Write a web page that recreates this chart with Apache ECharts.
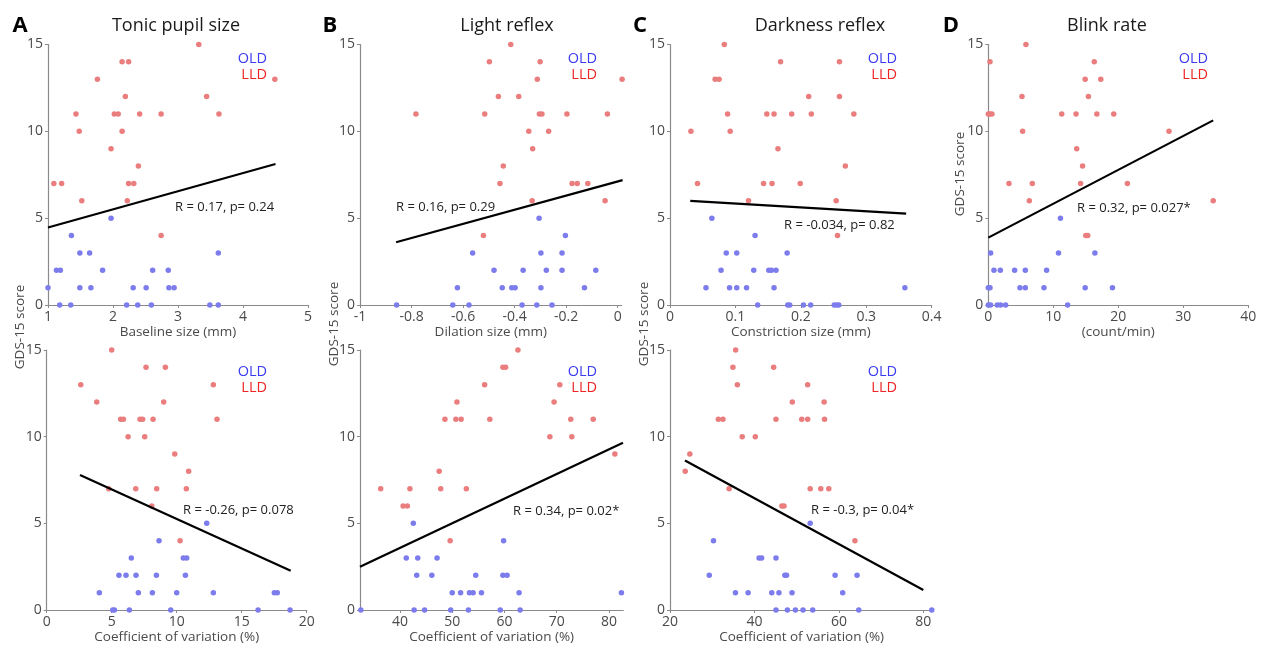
<!DOCTYPE html>
<html>
<head>
<meta charset="utf-8">
<script src="https://cdn.jsdelivr.net/npm/echarts@6/dist/echarts.min.js"></script>
<style>html,body{margin:0;padding:0;background:#fff}#c{width:1262px;height:648px}</style>
</head>
<body>
<div id="c"></div>
<script>
// ---------- DATA ----------
const yTicks = [0, 5, 10, 15];
const xTicksA1 = [1, 2, 3, 4, 5];
const xTicksB1 = [-1, -0.8, -0.6, -0.4, -0.2, 0];
const xTicksC1 = [0, 0.1, 0.2, 0.3, 0.4];
const xTicksD1 = [0, 10, 20, 30, 40];
const xTicksA2 = [0, 5, 10, 15, 20];
const xTicksB2 = [40, 50, 60, 70, 80];
const xTicksC2 = [20, 40, 60, 80];

const titles = ['Tonic pupil size', 'Light reflex', 'Darkness reflex', 'Blink rate'];
const letters = ['A', 'B', 'C', 'D'];
const xNamesTop = ['Baseline size (mm)', 'Dilation size (mm)', 'Constriction size (mm)', '(count/min)'];
const xNameBottom = 'Coefficient of variation (%)';
const yName = 'GDS-15 score';
const groupNames = ['OLD', 'LLD'];
const statsText = ['R = 0.17, p= 0.24', 'R = 0.16, p= 0.29', 'R = -0.034, p= 0.82', 'R = 0.32, p= 0.027*',
                   'R = -0.26, p= 0.078', 'R = 0.34, p= 0.02*', 'R = -0.3, p= 0.04*'];

const aTopOld = [[1.97,5],[1.36,4],[1.49,3],[1.64,3],[3.62,3],[1.13,2],[1.19,2],[1.84,2],[2.61,2],[2.85,2],[1.0,1],[1.49,1],[1.66,1],[2.31,1],[2.51,1],[2.86,1],[2.94,1],[1.18,0],[1.35,0],[2.21,0],[2.38,0],[2.59,0],[3.49,0],[3.62,0]];
const aTopLld = [[3.32,15],[2.14,14],[2.24,14],[1.76,13],[4.49,13],[2.19,12],[3.44,12],[1.43,11],[2.02,11],[2.08,11],[2.41,11],[2.74,11],[3.63,11],[1.48,10],[2.14,10],[1.97,9],[2.39,8],[1.09,7],[1.21,7],[2.24,7],[2.32,7],[1.52,6],[2.22,6],[2.74,4]];
const aTopFit = [[1,4.46],[4.5,8.12]];

const bTopOld = [[-0.305,5],[-0.203,4],[-0.563,3],[-0.298,3],[-0.216,3],[-0.480,2],[-0.367,2],[-0.277,2],[-0.216,2],[-0.085,2],[-0.622,1],[-0.448,1],[-0.411,1],[-0.398,1],[-0.298,1],[-0.129,1],[-0.858,0],[-0.640,0],[-0.577,0],[-0.371,0],[-0.314,0],[-0.255,0]];
const bTopLld = [[-0.415,15],[-0.498,14],[-0.301,14],[-0.312,13],[0.017,13],[-0.463,12],[-0.384,12],[-0.783,11],[-0.516,11],[-0.304,11],[-0.294,11],[-0.197,11],[-0.040,11],[-0.345,10],[-0.268,10],[-0.330,9],[-0.444,8],[-0.457,7],[-0.177,7],[-0.157,7],[-0.116,7],[-0.332,6],[-0.049,6],[-0.521,4]];
const bTopFit = [[-0.86,3.61],[0.019,7.19]];

const cTopOld = [[0.064,5],[0.130,4],[0.086,3],[0.102,3],[0.179,3],[0.078,2],[0.128,2],[0.151,2],[0.155,2],[0.162,2],[0.055,1],[0.091,1],[0.102,1],[0.117,1],[0.159,1],[0.359,1],[0.134,0],[0.180,0],[0.183,0],[0.204,0],[0.215,0],[0.251,0],[0.255,0],[0.258,0]];
const cTopLld = [[0.083,15],[0.169,14],[0.259,14],[0.069,13],[0.075,13],[0.212,12],[0.259,12],[0.088,11],[0.148,11],[0.159,11],[0.186,11],[0.216,11],[0.281,11],[0.032,10],[0.092,10],[0.165,9],[0.268,8],[0.042,7],[0.143,7],[0.156,7],[0.199,7],[0.120,6],[0.254,6],[0.256,4]];
const cTopFit = [[0.031,6.0],[0.361,5.26]];

const dTopOld = [[11.1,5],[0.36,3],[10.8,3],[16.4,3],[0.87,2],[1.85,2],[4.05,2],[5.69,2],[8.97,2],[0,1],[0.26,1],[4.87,1],[5.69,1],[8.56,1],[14.9,1],[19.1,1],[0,0],[0.36,0],[1.38,0],[1.9,0],[2.67,0],[12.2,0]];
const dTopLld = [[5.79,15],[0.26,14],[16.3,14],[14.9,13],[17.3,13],[5.18,12],[15.4,12],[0,11],[0.26,11],[0.56,11],[11.3,11],[13.5,11],[16.7,11],[19.3,11],[5.28,10],[27.8,10],[13.6,9],[14.5,8],[3.18,7],[6.77,7],[14.2,7],[21.4,7],[6.31,6],[34.6,6],[15.0,4],[15.3,4]];
const dTopFit = [[0,3.88],[34.6,10.63]];

const aBotOld = [[12.31,5],[8.64,4],[6.51,3],[10.51,3],[10.77,3],[5.56,2],[6.10,2],[6.87,2],[8.44,2],[10.67,2],[4.05,1],[7.05,1],[8.13,1],[10.0,1],[12.82,1],[17.51,1],[17.74,1],[5.08,0],[5.21,0],[6.36,0],[9.54,0],[16.26,0],[18.72,0]];
const aBotLld = [[5.0,15],[7.64,14],[9.13,14],[2.62,13],[12.82,13],[3.85,12],[9.0,12],[5.69,11],[5.9,11],[7.18,11],[7.38,11],[8.18,11],[13.1,11],[6.26,10],[7.54,10],[9.85,9],[10.92,8],[4.77,7],[6.85,7],[8.46,7],[10.74,7],[8.08,6],[10.26,4]];
const aBotFit = [[2.56,7.79],[18.77,2.27]];

const bBotOld = [[42.55,5],[59.84,4],[41.2,3],[43.4,3],[47.1,3],[43.2,2],[46.1,2],[54.5,2],[59.7,2],[60.5,2],[50.0,1],[51.6,1],[53.3,1],[54.0,1],[55.6,1],[62.8,1],[82.4,1],[32.5,0],[42.7,0],[44.7,0],[49.7,0],[53.1,0],[59.2,0],[63.0,0]];
const bBotLld = [[62.58,15],[59.71,14],[60.22,14],[56.2,13],[70.6,13],[50.9,12],[69.5,12],[48.6,11],[50.7,11],[51.7,11],[57.2,11],[72.7,11],[77.0,11],[68.7,10],[72.9,10],[81.15,9],[47.5,8],[36.3,7],[41.9,7],[47.8,7],[52.7,7],[40.6,6],[41.4,6],[49.6,4]];
const bBotFit = [[32.34,2.5],[82.7,9.65]];

const cBotOld = [[53.2,5],[30.3,4],[41.1,3],[41.7,3],[45.1,3],[29.3,2],[47.2,2],[47.6,2],[59.1,2],[64.3,2],[35.5,1],[38.5,1],[44.1,1],[45.8,1],[48.9,1],[60.9,1],[45.1,0],[47.8,0],[49.7,0],[51.5,0],[53.8,0],[64.7,0],[82.0,0]];
const cBotLld = [[35.55,15],[34.9,14],[44.55,14],[35.95,13],[52.6,13],[48.97,12],[56.5,12],[31.45,11],[32.55,11],[45.1,11],[51.2,11],[52.6,11],[56.6,11],[37.1,10],[40.2,10],[24.7,9],[23.6,8],[34.0,7],[53.2,7],[55.7,7],[57.6,7],[46.5,6],[47.0,6],[63.8,4]];
const cBotFit = [[23.55,8.62],[80.0,1.15]];

// ---------- LAYOUT / STYLE ----------
const FONT = "'Open Sans', 'Noto Sans', sans-serif";
const C_OLD_PT = '#7c7cec', C_LLD_PT = '#ea7d7d';
const C_OLD_TX = '#3a3af0', C_LLD_TX = '#ee2424';
const AXIS_C = '#8a8a8a', LABEL_C = '#4a4a4a';

const panels = [
  {grid:{left:48, top:44.5, width:260, height:260.5}, min:1, max:5, ticks:xTicksA1, name:xNamesTop[0], old:aTopOld, lld:aTopLld, fit:aTopFit, stat:statsText[0], sx:175, sy:207, lx:267, ly:59},
  {grid:{left:360, top:44.5, width:261.7, height:260.5}, min:-1, max:0.0155, ticks:xTicksB1, name:xNamesTop[1], old:bTopOld, lld:bTopLld, fit:bTopFit, stat:statsText[1], sx:396, sy:207, lx:597, ly:59},
  {grid:{left:670, top:44.5, width:261.7, height:260.5}, min:0, max:0.4, ticks:xTicksC1, name:xNamesTop[2], old:cTopOld, lld:cTopLld, fit:cTopFit, stat:statsText[2], sx:784, sy:225, lx:897, ly:59},
  {grid:{left:988.3, top:44.5, width:260, height:260.5}, min:0, max:40, ticks:xTicksD1, name:xNamesTop[3], old:dTopOld, lld:dTopLld, fit:dTopFit, stat:statsText[3], sx:1077, sy:208, lx:1208, ly:59},
  {grid:{left:46.7, top:350, width:260, height:260}, min:0, max:20, ticks:xTicksA2, name:xNameBottom, old:aBotOld, lld:aBotLld, fit:aBotFit, stat:statsText[4], sx:183, sy:510, lx:267, ly:372},
  {grid:{left:360, top:350, width:263.3, height:260}, min:32.34, max:82.76, ticks:xTicksB2, name:xNameBottom, old:bBotOld, lld:bBotLld, fit:bBotFit, stat:statsText[5], sx:513, sy:511, lx:597, ly:372},
  {grid:{left:670, top:350, width:263.3, height:260}, min:20, max:82.36, ticks:xTicksC2, name:xNameBottom, old:cBotOld, lld:cBotLld, fit:cBotFit, stat:statsText[6], sx:811, sy:510, lx:897, ly:372}
];

const grids = [], xAxes = [], yAxes = [], series = [], graphics = [];
panels.forEach((p, i) => {
  grids.push(p.grid);
  xAxes.push({
    gridIndex:i, type:'value', min:p.min, max:p.max,
    name:p.name, nameLocation:'middle', nameGap:19,
    nameTextStyle:{fontFamily:FONT, fontSize:13.5, color:LABEL_C},
    axisLine:{show:true, onZero:false, lineStyle:{color:AXIS_C, width:1.2}},
    axisTick:{show:true, length:3, inside:false, customValues:p.ticks, lineStyle:{color:AXIS_C}},
    axisLabel:{show:true, customValues:p.ticks, margin:5, fontFamily:FONT, fontSize:14, color:LABEL_C, formatter:v=>String(+v.toFixed(2))},
    splitLine:{show:false}
  });
  yAxes.push({
    gridIndex:i, type:'value', min:0, max:15, interval:5,
    axisLine:{show:true, onZero:false, lineStyle:{color:AXIS_C, width:1.2}},
    axisTick:{show:true, length:3, lineStyle:{color:AXIS_C}},
    axisLabel:{show:true, margin:5, fontFamily:FONT, fontSize:14, color:LABEL_C},
    splitLine:{show:false}
  });
  series.push({type:'scatter', name:groupNames[0], xAxisIndex:i, yAxisIndex:i, data:p.old, symbolSize:5.5, clip:false, itemStyle:{color:C_OLD_PT, opacity:1}, z:2});
  series.push({type:'scatter', name:groupNames[1], xAxisIndex:i, yAxisIndex:i, data:p.lld, symbolSize:5.5, clip:false, itemStyle:{color:C_LLD_PT, opacity:1}, z:2});
  series.push({type:'line', xAxisIndex:i, yAxisIndex:i, data:p.fit, symbol:'none', clip:false, lineStyle:{color:'#000', width:2.2}, z:3, silent:true});
  graphics.push({type:'text', x:p.sx, y:p.sy, style:{text:p.stat, fill:'#222', font:'13px ' + FONT, textAlign:'left', textVerticalAlign:'middle'}});
  graphics.push({type:'text', x:p.lx, y:p.ly, style:{text:groupNames[0], fill:C_OLD_TX, font:'14.5px ' + FONT, textAlign:'right', textVerticalAlign:'middle'}});
  graphics.push({type:'text', x:p.lx, y:p.ly + 16, style:{text:groupNames[1], fill:C_LLD_TX, font:'14.5px ' + FONT, textAlign:'right', textVerticalAlign:'middle'}});
});

// titles and panel letters
const titleX = [176, 507, 820, 1107];
const letterX = [20, 330, 640, 951];
titles.forEach((t, i) => {
  graphics.push({type:'text', x:titleX[i], y:26, style:{text:t, fill:'#1a1a1a', font:'18px ' + FONT, textAlign:'center', textVerticalAlign:'middle'}});
  graphics.push({type:'text', x:letterX[i], y:26, style:{text:letters[i], fill:'#000', font:'bold 22px ' + FONT, textAlign:'center', textVerticalAlign:'middle'}});
});
// y-axis names
[[20, 327], [334, 324], [644, 324], [960, 174]].forEach(([x, y]) => {
  graphics.push({type:'text', x:x, y:y, rotation:Math.PI / 2, style:{text:yName, fill:LABEL_C, font:'13.5px ' + FONT, textAlign:'center', textVerticalAlign:'middle'}});
});

const chart = echarts.init(document.getElementById('c'), null, {renderer:'canvas'});
chart.setOption({
  animation:false,
  backgroundColor:'#fff',
  grid:grids, xAxis:xAxes, yAxis:yAxes, series:series, graphic:graphics
});
</script>
</body>
</html>
